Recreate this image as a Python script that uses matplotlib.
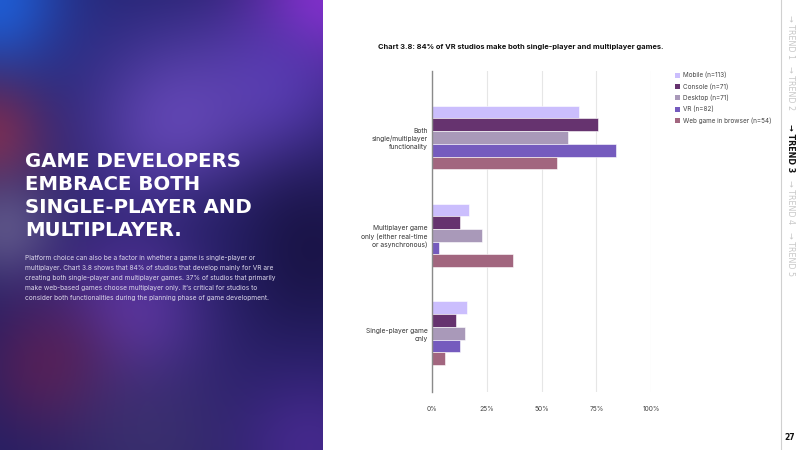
import numpy as np
import matplotlib
matplotlib.use("Agg")
import matplotlib.pyplot as plt
from matplotlib.patches import Rectangle

# ---------------- data ----------------
categories = ["Both\nsingle/multiplayer\nfunctionality",
              "Multiplayer game\nonly (either real-time\nor asynchronous)",
              "Single-player game\nonly"]
series_names = ["Mobile (n=113)", "Console (n=71)", "Desktop (n=71)",
                "VR (n=82)", "Web game in browser (n=54)"]
mobile = [67, 17, 16]
console = [76, 13, 11]
desktop = [62, 23, 15]
vr = [84, 3, 13]
web = [57, 37, 6]
tick_values = [0, 25, 50, 75, 100]
tick_labels = ["0%", "25%", "50%", "75%", "100%"]
colors = ["#CBBEFD", "#66336F", "#A999B9", "#755BBE", "#A2667F"]

title_lines = ["GAME DEVELOPERS", "EMBRACE BOTH", "SINGLE-PLAYER AND", "MULTIPLAYER."]
body_lines = [
    "Platform choice can also be a factor in whether a game is single-player or",
    "multiplayer. Chart 3.8 shows that 84% of studios that develop mainly for VR are",
    "creating both single-player and multiplayer games. 37% of studios that primarily",
    "make web-based games choose multiplayer only. It\u2019s critical for studios to",
    "consider both functionalities during the planning phase of game development.",
]
nav_items = ["\u2192 TREND 1", "\u2192 TREND 2", "\u2192 TREND 3", "\u2192 TREND 4", "\u2192 TREND 5"]

W, H = 800, 450
fig = plt.figure(figsize=(8, 4.5), dpi=100)
fig.patch.set_facecolor("white")

# ---------------- left decorative panel ----------------
pw = 323
bg = fig.add_axes([0, 0, pw / W, 1])
ny, nx = 225, 162
yy, xx = np.mgrid[0:ny, 0:nx]
xx = xx * (pw / nx)
yy = yy * (H / ny)
img = np.zeros((ny, nx, 3))
img[:] = np.array([36, 30, 100]) / 255.0
blobs = [
    (0, 0, 55, (30, 95, 215), 1.0),
    (130, 25, 70, (35, 40, 125), 0.5),
    (323, 0, 55, (135, 45, 205), 0.95),
    (270, 90, 55, (90, 62, 190), 0.7),
    (-10, 135, 40, (125, 45, 80), 0.9),
    (180, 125, 70, (110, 78, 195), 0.8),
    (5, 228, 38, (105, 98, 145), 0.75),
    (300, 245, 60, (22, 16, 60), 0.75),
    (210, 245, 50, (30, 28, 95), 0.5),
    (130, 315, 55, (105, 60, 180), 0.75),
    (50, 365, 48, (95, 30, 80), 0.75),
    (150, 440, 65, (70, 58, 115), 0.55),
    (310, 445, 55, (80, 45, 155), 0.7),
]
for bx, by, s, c, w in blobs:
    a = w * np.exp(-((xx - bx) ** 2 + (yy - by) ** 2) / (2 * s ** 2))
    img = img * (1 - a[..., None]) + (np.array(c) / 255.0) * a[..., None]
bg.imshow(img, extent=[0, pw, H, 0], aspect="auto", interpolation="bicubic")
bg.set_xlim(0, pw)
bg.set_ylim(H, 0)
bg.axis("off")

# title (large caps)
for i, line in enumerate(title_lines):
    fig.text(25 / W, 1 - (167 + i * 23) / H, line, color="white", fontsize=14.2,
             fontweight="bold", family="DejaVu Sans", ha="left", va="baseline")

for i, line in enumerate(body_lines):
    fig.text(25 / W, 1 - (258 + i * 10) / H, line, color="#DCD8EA", fontsize=4.75,
             family="Inter", ha="left", va="center")

# ---------------- chart ----------------
fig.text(378 / W, 1 - 47 / H,
         "Chart 3.8: 84% of VR studios make both single-player and multiplayer games.",
         fontsize=5.4, fontweight="bold", family="Inter", ha="left", va="center",
         color="#111111")

ax = fig.add_axes([432 / W, 1 - 392 / H, 219 / W, 321 / H])
series = [mobile, console, desktop, vr, web]
bh = 0.13
y = np.arange(len(categories))
for i, (vals, col, name) in enumerate(zip(series, colors, series_names)):
    ax.barh(y + (i - 2) * bh, vals, height=bh, color=col, edgecolor="white",
            linewidth=0.4, label=name, zorder=3)
ax.set_xlim(0, 100)
ax.set_ylim(2.6, -0.68)
ax.set_xticks(tick_values)
ax.set_xticklabels(tick_labels, fontsize=4.8, color="#444444", family="Inter")
ax.tick_params(axis="x", length=0, pad=10)
ax.set_yticks(y)
ax.set_yticklabels(categories, fontsize=4.8, color="#333333", family="Inter",
                   linespacing=1.35)
ax.tick_params(axis="y", length=0, pad=3)
ax.grid(axis="x", color="#E6E6E6", linewidth=0.8, zorder=0)
for s in ["top", "right", "bottom"]:
    ax.spines[s].set_visible(False)
ax.spines["left"].set_color("#8A8A8A")
ax.spines["left"].set_linewidth(1.0)
ax.spines["left"].set_zorder(4)
ax.set_facecolor("none")

# legend (manual to match placement)
for i, (col, name) in enumerate(zip(colors, series_names)):
    yc = 1 - (75 + i * 11.4) / H
    fig.patches.append(Rectangle((675 / W, yc - 2.5 / H), 5 / W, 5 / H,
                                 transform=fig.transFigure, facecolor=col,
                                 edgecolor="none"))
    fig.text(683 / W, yc, name, fontsize=4.6, family="Inter", color="#444444",
             ha="left", va="center")

# ---------------- right navigation ----------------
fig.add_artist(plt.Line2D([781 / W, 781 / W], [0, 1], transform=fig.transFigure,
                          color="#D0D0D0", linewidth=0.8))
nav_y = [15, 66, 124, 180, 232]
for i, (item, yt) in enumerate(zip(nav_items, nav_y)):
    active = i == 2
    fig.text(790 / W, 1 - yt / H, item, rotation=-90, fontsize=5.8,
             family="DejaVu Sans", fontweight="bold" if active else "normal",
             color="#111111" if active else "#C8C8C8", ha="center", va="top")
fig.text(790 / W, 1 - 438 / H, "27", fontsize=5.5, fontweight="bold",
         family="DejaVu Sans", color="#111111", ha="center", va="center")

fig.savefig("out.png", dpi=100)
